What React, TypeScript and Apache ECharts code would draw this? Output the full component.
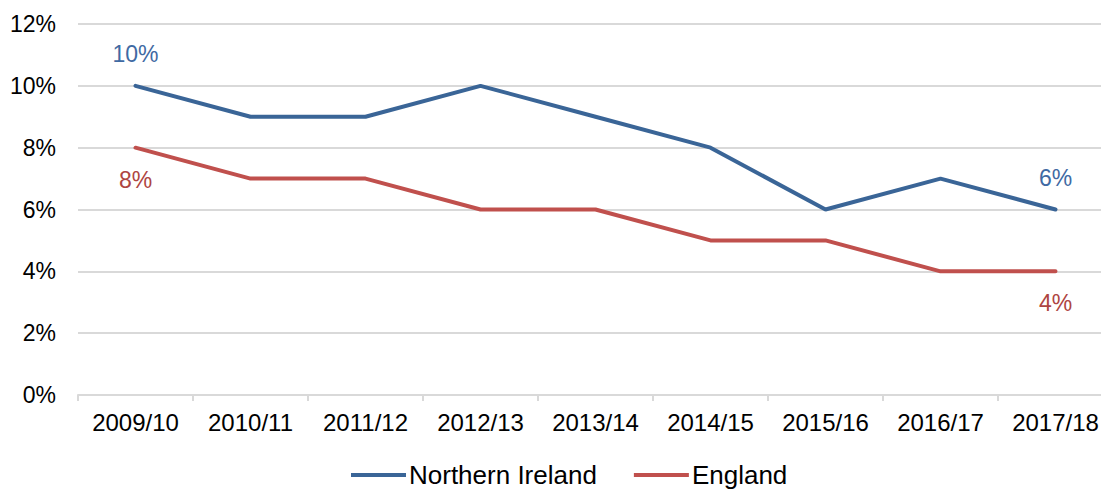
import React, { useEffect, useRef } from "react";
import * as echarts from "echarts";

const categories = ["2009/10", "2010/11", "2011/12", "2012/13", "2013/14", "2014/15", "2015/16", "2016/17", "2017/18"];
const northernIreland = [10, 9, 9, 10, 9, 8, 6, 7, 6];
const england = [8, 7, 7, 6, 6, 5, 5, 4, 4];
const yTicks = { min: 0, max: 12, interval: 2 };

const FONT = "'Liberation Sans', Arial, sans-serif";

function labelled(values: number[], color: string, position: "top" | "bottom") {
  return values.map((v, i) =>
    i === 0 || i === values.length - 1
      ? {
          value: v,
          label: {
            show: true,
            position,
            distance: 20,
            formatter: "{c}%",
            color,
            fontSize: 23,
            fontFamily: FONT,
          },
        }
      : v
  );
}

export default function App() {
  const ref = useRef<HTMLDivElement>(null);
  useEffect(() => {
    if (!ref.current) return;
    const chart = echarts.init(ref.current, undefined, { renderer: "svg" });
    chart.setOption({
      animation: false,
      grid: { left: 78, right: 0, top: 24, bottom: 95 },
      legend: {
        top: 462,
        left: 351,
        padding: 0,
        itemWidth: 55,
        itemHeight: 4,
        itemGap: 37,
        icon: "rect",
        textStyle: { fontSize: 26, lineHeight: 26, color: "#000", fontFamily: FONT, padding: [0, 0, 0, -2] },
        data: ["Northern Ireland", "England"],
      },
      xAxis: {
        type: "category",
        data: categories,
        boundaryGap: true,
        axisLine: { lineStyle: { color: "#D9D9D9", width: 2 } },
        axisTick: { show: true, length: 6, lineStyle: { color: "#D9D9D9", width: 2 } },
        axisLabel: { color: "#000", fontSize: 24, fontFamily: FONT, margin: 15 },
      },
      yAxis: {
        type: "value",
        min: yTicks.min,
        max: yTicks.max,
        interval: yTicks.interval,
        axisLine: { show: false },
        axisTick: { show: false },
        axisLabel: { formatter: "{value}%", color: "#000", fontSize: 23, fontFamily: FONT, margin: 22 },
        splitLine: { lineStyle: { color: "#D9D9D9", width: 2 } },
      },
      series: [
        {
          name: "Northern Ireland",
          type: "line",
          data: labelled(northernIreland, "#3F6AA3", "top"),
          symbol: "circle",
          symbolSize: 1,
          showSymbol: true,
          lineStyle: { color: "#3A6597", width: 4, cap: "round" },
          itemStyle: { color: "#3A6597" },
        },
        {
          name: "England",
          type: "line",
          data: labelled(england, "#AE4542", "bottom"),
          symbol: "circle",
          symbolSize: 1,
          showSymbol: true,
          lineStyle: { color: "#C0504D", width: 4, cap: "round" },
          itemStyle: { color: "#C0504D" },
        },
      ],
    });
    return () => chart.dispose();
  }, []);
  return (
    <div style={{ position: "absolute", left: 0, top: 0, width: 1101, height: 490, overflow: "hidden" }}>
      <div ref={ref} style={{ width: 1113, height: 490 }} />
    </div>
  );
}
